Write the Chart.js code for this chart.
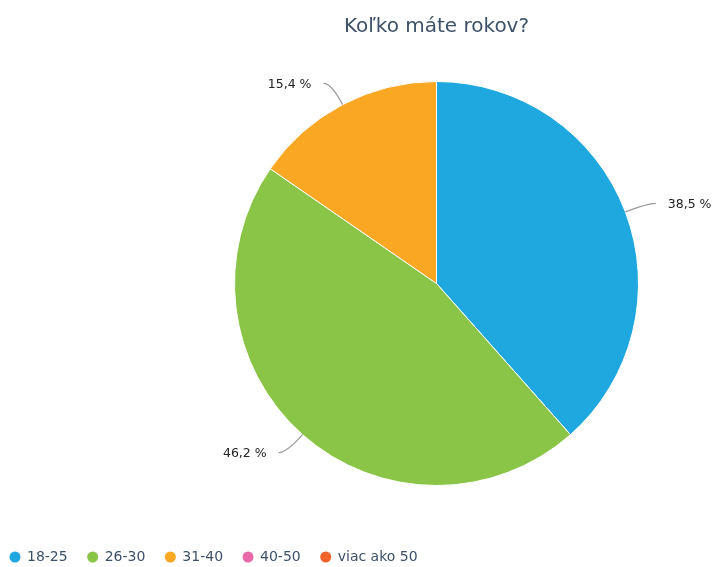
<!DOCTYPE html>
<html>
<head>
<meta charset="utf-8">
<script src="https://cdn.jsdelivr.net/npm/chart.js@4/dist/chart.umd.min.js"></script>
<style>
  html, body { margin: 0; padding: 0; background: #fff; }
  #wrap { width: 713px; height: 567px; }
</style>
</head>
<body>
<div id="wrap"><canvas id="pie"></canvas></div>
<script>
var labels = ['18-25', '26-30', '31-40', '40-50', 'viac ako 50'];
var values = [38.5, 46.2, 15.4, 0, 0];
var colors = ['#1fa8e0', '#8ac548', '#faa823', '#e86aa8', '#f1652a'];

var FONT = "'DejaVu Sans', sans-serif";
var TEXT_COLOR = '#3d5169';

// percent labels with curved leader lines
var sliceLabels = {
  id: 'sliceLabels',
  afterDatasetsDraw: function (chart) {
    var c = chart.ctx;
    var arcs = chart.getDatasetMeta(0).data;
    c.save();
    c.font = '12.5px ' + FONT;
    c.textBaseline = 'middle';
    arcs.forEach(function (arc, i) {
      if (!values[i]) return;
      var mid = (arc.startAngle + arc.endAngle) / 2;
      var r = arc.outerRadius;
      var cos = Math.cos(mid), sin = Math.sin(mid);
      var x0 = arc.x + r * cos, y0 = arc.y + r * sin;
      var x1 = arc.x + (r + 24) * cos, y1 = arc.y + (r + 24) * sin;
      var right = cos >= 0;
      var x2 = x1 + (right ? 8 : -8);
      c.strokeStyle = '#999999';
      c.lineWidth = 1.2;
      c.beginPath();
      c.moveTo(x0, y0);
      c.quadraticCurveTo(x1, y1, x2, y1);
      c.stroke();
      c.fillStyle = '#222';
      c.textAlign = right ? 'left' : 'right';
      var txt = values[i].toFixed(1).replace('.', ',') + ' %';
      c.fillText(txt, x2 + (right ? 12 : -12), y1 + 1);
    });
    c.restore();
  }
};

// legend row along the bottom
var bottomLegend = {
  id: 'bottomLegend',
  afterDraw: function (chart) {
    var c = chart.ctx;
    c.save();
    c.font = '14px ' + FONT;
    c.textBaseline = 'middle';
    c.textAlign = 'left';
    var x = 15, y = 557;
    labels.forEach(function (lab, i) {
      c.fillStyle = colors[i];
      c.beginPath();
      c.arc(x, y, 5.5, 0, Math.PI * 2);
      c.fill();
      c.fillStyle = TEXT_COLOR;
      c.fillText(lab, x + 12, y);
      x += 12 + c.measureText(lab).width + 25;
    });
    c.restore();
  }
};

new Chart(document.getElementById('pie'), {
  type: 'pie',
  data: {
    labels: labels,
    datasets: [{
      data: values,
      backgroundColor: colors,
      borderColor: '#ffffff',
      borderWidth: 1
    }]
  },
  options: {
    responsive: true,
    maintainAspectRatio: false,
    animation: false,
    radius: 202,
    layout: { padding: { left: 160, bottom: 47 } },
    plugins: {
      legend: { display: false },
      tooltip: { enabled: false },
      title: {
        display: true,
        text: 'Koľko máte rokov?',
        color: TEXT_COLOR,
        font: { family: FONT, size: 20, weight: 'normal' },
        padding: { top: 15, bottom: 8 }
      }
    }
  },
  plugins: [sliceLabels, bottomLegend]
});
</script>
</body>
</html>
